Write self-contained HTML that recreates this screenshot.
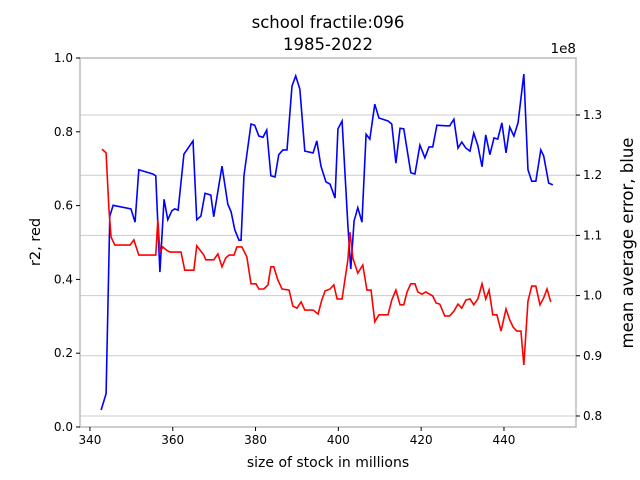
<!DOCTYPE html>
<html><head><meta charset="utf-8">
<style>
body{margin:0;background:#fff;}
svg{display:block;font-family:"DejaVu Sans","Liberation Sans",sans-serif;}
</style></head>
<body>
<svg id="chart" width="640" height="480"></svg>
<script>
const redX=[342.9,343.9,344.6,345.1,346.0,349.7,350.6,351.8,355.9,356.4,356.9,357.6,358.4,359.3,362.0,362.9,365.1,365.8,367.5,368.0,369.9,370.9,371.9,372.8,373.6,374.8,375.5,376.7,377.9,378.9,380.1,380.8,382.0,383.0,383.7,384.4,385.4,386.4,388.1,389.0,390.0,391.0,391.9,393.9,395.1,396.0,396.8,398.0,398.9,399.7,400.9,402.3,402.8,403.5,404.7,405.9,406.9,407.9,408.8,409.8,412.0,412.9,413.9,414.9,415.8,416.6,417.5,418.5,419.2,420.2,421.1,422.8,423.6,424.5,425.7,426.9,427.9,428.9,429.8,430.8,431.8,432.7,433.7,434.7,435.6,436.4,437.3,438.3,439.3,440.5,441.4,442.2,443.1,444.1,444.8,445.8,446.7,447.7,448.7,449.6,450.4,451.3];
const redR2=[0.753,0.743,0.588,0.515,0.493,0.493,0.507,0.466,0.466,0.561,0.474,0.488,0.480,0.474,0.474,0.425,0.425,0.491,0.466,0.453,0.453,0.469,0.434,0.458,0.466,0.466,0.488,0.488,0.461,0.388,0.388,0.374,0.374,0.385,0.434,0.434,0.398,0.374,0.371,0.328,0.322,0.339,0.317,0.317,0.306,0.344,0.369,0.374,0.385,0.347,0.347,0.453,0.528,0.458,0.417,0.439,0.371,0.371,0.285,0.304,0.304,0.344,0.371,0.331,0.331,0.366,0.388,0.388,0.366,0.360,0.366,0.355,0.336,0.333,0.301,0.301,0.314,0.333,0.322,0.344,0.347,0.331,0.347,0.388,0.347,0.371,0.304,0.304,0.260,0.320,0.290,0.271,0.260,0.260,0.168,0.341,0.382,0.382,0.331,0.350,0.374,0.339];
const blueX=[342.7,343.9,344.8,345.6,349.9,350.9,351.8,355.2,355.9,356.9,357.9,358.8,359.8,360.5,361.3,362.7,364.9,365.8,366.8,367.8,369.2,369.9,371.9,373.3,374.1,375.0,376.0,376.5,377.2,378.9,379.8,380.8,381.8,382.7,383.7,384.7,385.6,386.6,387.6,388.8,389.7,390.7,391.9,393.9,394.8,395.8,397.0,398.0,399.2,399.9,400.9,402.3,403.0,403.8,404.7,405.7,406.7,407.6,408.8,409.8,412.0,412.9,413.9,414.9,415.8,417.5,418.5,419.7,420.9,421.9,422.8,423.8,426.0,426.9,427.9,428.9,429.8,430.8,431.8,432.7,433.7,434.7,435.6,436.6,437.6,438.5,439.5,440.5,441.4,442.4,443.4,444.8,445.8,446.7,447.7,448.9,449.6,450.8,451.8];
const blueErr=[0.810,0.837,1.132,1.150,1.144,1.122,1.209,1.202,1.199,1.039,1.160,1.126,1.141,1.144,1.142,1.235,1.257,1.126,1.132,1.170,1.167,1.131,1.215,1.152,1.139,1.109,1.092,1.092,1.199,1.285,1.283,1.265,1.263,1.275,1.199,1.197,1.234,1.242,1.242,1.348,1.365,1.343,1.240,1.237,1.257,1.215,1.189,1.185,1.162,1.277,1.290,1.117,1.044,1.124,1.146,1.122,1.268,1.260,1.318,1.295,1.290,1.285,1.220,1.278,1.277,1.204,1.202,1.250,1.229,1.247,1.247,1.283,1.282,1.282,1.293,1.245,1.255,1.245,1.240,1.270,1.249,1.214,1.267,1.234,1.262,1.260,1.287,1.237,1.280,1.265,1.287,1.368,1.209,1.190,1.190,1.242,1.232,1.187,1.184];
const xTicks=[340,360,380,400,420,440];
const leftTicks=[0.0,0.2,0.4,0.6,0.8,1.0];
const rightTicks=[0.8,0.9,1.0,1.1,1.2,1.3];

const L=80,R=576,T=58,B=427;
const xMin=337.6,xMax=457.4,rMin=0.7817,rMax=1.3947;
const sx=v=>L+(v-xMin)/(xMax-xMin)*(R-L);
const syL=v=>B-v*(B-T);
const syR=v=>B-(v-rMin)/(rMax-rMin)*(B-T);
const svg=document.getElementById('chart');
const NS='http://www.w3.org/2000/svg';
function mk(tag,attrs,parent){const e=document.createElementNS(NS,tag);for(const k in attrs)e.setAttribute(k,attrs[k]);(parent||svg).appendChild(e);return e;}

rightTicks.forEach(t=>{
  const g=mk('line',{x1:L,x2:R,y1:syR(t),y2:syR(t),stroke:'#cccccc','stroke-width':1});
  
  
});
const fr=mk('rect',{x:L,y:T,width:R-L,height:B-T,fill:'none',stroke:'#bbbbbb','stroke-width':1.5});



xTicks.forEach(t=>{
  const x=sx(t);
  mk('line',{x1:x,x2:x,y1:B,y2:B+4,stroke:'#000'});
  const tx=mk('text',{x:x,y:B+17,'text-anchor':'middle','font-size':12});
  tx.textContent=t;
  
  
});
leftTicks.forEach(t=>{
  const y=syL(t);
  mk('line',{x1:L-4,x2:L,y1:y,y2:y,stroke:'#000'});
  const tx=mk('text',{x:L-7,y:y+4,'text-anchor':'end','font-size':12});
  tx.textContent=t.toFixed(1);
  
  
});
rightTicks.forEach(t=>{
  const y=syR(t);
  mk('line',{x1:R,x2:R+4,y1:y,y2:y,stroke:'#000'});
  const tx=mk('text',{x:R+7,y:y+4,'text-anchor':'start','font-size':12});
  tx.textContent=t.toFixed(1);
  
  
});

const bp=mk('polyline',{points:blueX.map((x,i)=>sx(x)+','+syR(blueErr[i])).join(' '),fill:'none',stroke:'#0000ff','stroke-width':1.6});


const rp=mk('polyline',{points:redX.map((x,i)=>sx(x)+','+syL(redR2[i])).join(' '),fill:'none',stroke:'#ff0000','stroke-width':1.6});



function txt(s,a,name){const t=mk('text',a);t.textContent=s;return t;}
txt('school fractile:096',{x:328,y:28,'text-anchor':'middle','font-size':16.5},'chart-title');
txt('1985-2022',{x:328,y:50,'text-anchor':'middle','font-size':16.5},'chart-subtitle');
txt('1e8',{x:576,y:53,'text-anchor':'end','font-size':13.5},'right-axis-multiplier');
txt('size of stock in millions',{x:328,y:467,'text-anchor':'middle','font-size':14},'x-axis-title');
txt('r2, red',{x:0,y:0,'text-anchor':'middle','font-size':14.5,transform:'translate(40,242) rotate(-90)'},'left-axis-title');
txt('mean average error, blue',{x:0,y:0,'text-anchor':'middle','font-size':16.5,transform:'translate(633,243) rotate(-90)'},'right-axis-title');
</script>
</body></html>
